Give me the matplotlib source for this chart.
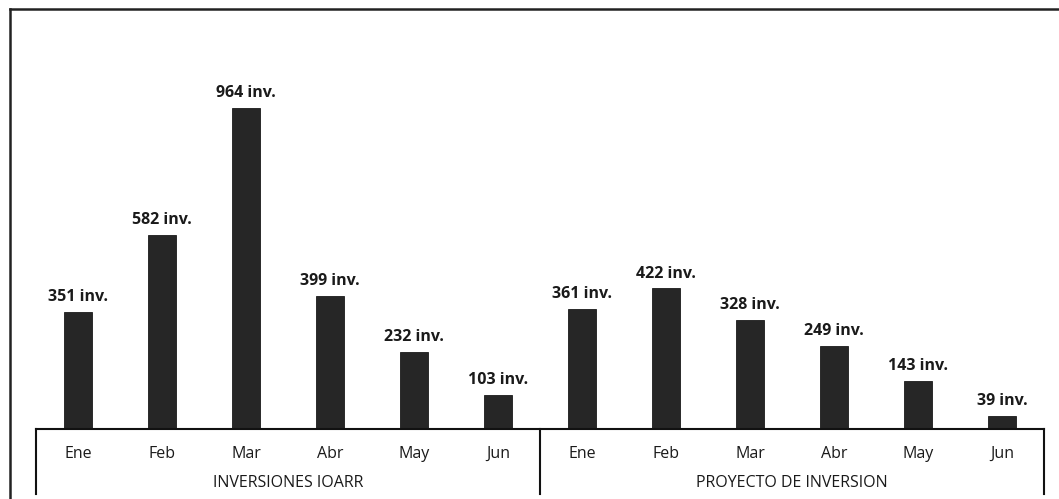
import numpy as np
import matplotlib
matplotlib.use('Agg')
import matplotlib.pyplot as plt
from matplotlib.lines import Line2D

# ===================== DATI =====================
MONTHS = ['Ene', 'Feb', 'Mar', 'Abr', 'May', 'Jun']
GROUPS = ['INVERSIONES IOARR', 'PROYECTO DE INVERSION']
IOARR = [351, 582, 964, 399, 232, 103]
PROYECTO = [361, 422, 328, 249, 143, 39]
# ================================================

plt.rcParams['font.family'] = ['Open Sans', 'DejaVu Sans']

values = IOARR + PROYECTO
labels = MONTHS + MONTHS
x = np.arange(len(values))

fig = plt.figure(figsize=(10.59, 4.99), dpi=100)
ax = fig.add_axes([36 / 1059, 70 / 499, 1008 / 1059, 409 / 499])

bars = ax.bar(x, values, width=0.33, color='#262626', edgecolor='#1a1a1a', lw=0.6)
for xi, v in zip(x, values):
    ax.annotate(f'{v} inv.', (xi, v), xytext=(0, 5), textcoords='offset points',
                ha='center', va='bottom', fontsize=11.5, fontweight='bold',
                color='#1a1a1a')

ax.set_xlim(-0.5, len(values) - 0.5)
ax.set_ylim(0, 1228)
for s in ['top', 'right', 'left']:
    ax.spines[s].set_visible(False)
ax.spines['bottom'].set_linewidth(1.5)
ax.spines['bottom'].set_color('#111111')
ax.set_yticks([])
ax.set_xticks([])

# etichette mesi e gruppi (asse a due livelli)
trans = ax.get_xaxis_transform()
for xi, lab in zip(x, labels):
    ax.text(xi, -0.06, lab, transform=trans, ha='center', va='center',
            fontsize=11.5, color='#1a1a1a')
n = len(MONTHS)
for g, name in enumerate(GROUPS):
    ax.text(g * n + (n - 1) / 2, -0.132, name, transform=trans, ha='center',
            va='center', fontsize=11.5, color='#1a1a1a')
for xb in [-0.5, n - 0.5, 2 * n - 0.5]:
    ax.add_line(Line2D([xb, xb], [0, -0.159], transform=trans, color='#111111',
                       lw=1.5, clip_on=False))

# cornice esterna (scansione)
fig.add_artist(Line2D([10 / 1059, 10 / 1059], [0, 1 - 9 / 499],
                      transform=fig.transFigure, color='#222222', lw=1.8))
fig.add_artist(Line2D([10 / 1059, 1], [1 - 9 / 499, 1 - 9 / 499],
                      transform=fig.transFigure, color='#222222', lw=1.8))

fig.savefig('out.png', dpi=100)
